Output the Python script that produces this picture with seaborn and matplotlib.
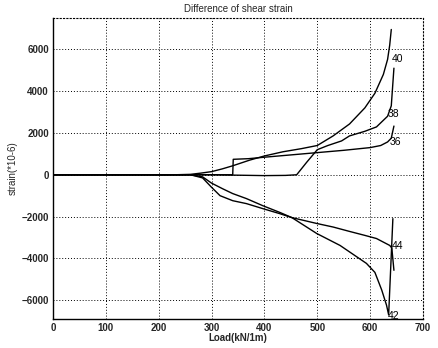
import numpy as np
import pandas as pd
import matplotlib
matplotlib.use('Agg')
import matplotlib.pyplot as plt
import seaborn as sns

# curve data (load in kN/1m, strain *10^-6)
load_36 = [0, 200, 300, 340, 341, 370, 400, 450, 500, 550, 600, 620, 633, 640, 645]
strain_36 = [0, 0, 0, 0, 740, 770, 840, 950, 1060, 1170, 1300, 1400, 1570, 1750, 2330]

load_38 = [0, 300, 350, 400, 440, 461, 480, 500, 520, 546, 561, 590, 612, 633, 640, 645]
strain_38 = [0, 0, -20, -40, -30, 0, 600, 1200, 1400, 1620, 1860, 2080, 2290, 2800, 3300, 5100]

load_40 = [0, 230, 260, 280, 300, 320, 340, 372, 400, 435, 470, 500, 530, 561, 590, 609, 625, 633, 637, 640]
strain_40 = [0, 0, 20, 80, 150, 280, 430, 700, 900, 1100, 1250, 1400, 1860, 2430, 3200, 3900, 4800, 5520, 6200, 6950]

load_42 = [0, 260, 283, 300, 316, 340, 366, 397, 429, 452, 499, 543, 593, 609, 622, 631, 635, 643]
strain_42 = [0, 0, -150, -600, -1000, -1240, -1380, -1620, -1860, -2050, -2810, -3380, -4240, -4670, -5520, -6240, -6700, -2100]

load_44 = [0, 260, 283, 300, 321, 340, 366, 397, 429, 452, 499, 530, 561, 590, 612, 637, 641, 645]
strain_44 = [0, 0, -100, -400, -670, -900, -1140, -1480, -1800, -2050, -2330, -2500, -2710, -2900, -3050, -3380, -3500, -4570]

curves = {
    '36': (load_36, strain_36),
    '38': (load_38, strain_38),
    '40': (load_40, strain_40),
    '42': (load_42, strain_42),
    '44': (load_44, strain_44),
}

# label anchor points (data coords)
label_pos = {
    '40': (640, 5550),
    '38': (634, 2900),
    '36': (636, 1550),
    '44': (640, -3400),
    '42': (634, -6750),
}

sns.set_style('white')
plt.rcParams['font.family'] = ['Liberation Sans', 'DejaVu Sans']

fig = plt.figure(figsize=(4.38, 3.48), dpi=100)
ax = fig.add_axes([53 / 438, 1 - 319 / 348, 370 / 438, 301 / 348])

for name, (x, y) in curves.items():
    df = pd.DataFrame({'load': x, 'strain': y})
    sns.lineplot(data=df, x='load', y='strain', ax=ax, color='black',
                 linewidth=1.0, sort=False, estimator=None)

for name, (lx, ly) in label_pos.items():
    ax.text(lx, ly, name, fontsize=7.5, va='center', ha='left', color='black')

ax.set_xlim(0, 700)
ax.set_ylim(-6900, 7500)
ax.set_xticks(np.arange(0, 701, 100))
ax.set_yticks(np.arange(-6000, 6001, 2000))
ax.grid(True, color='black', linestyle=(0, (1, 2)), linewidth=0.7)
ax.tick_params(direction='in', length=3, labelsize=7, width=0.8, pad=3)
for lab in ax.get_xticklabels() + ax.get_yticklabels():
    lab.set_fontweight('bold')
for side in ['left', 'bottom']:
    ax.spines[side].set_color('black')
    ax.spines[side].set_linewidth(1.0)
for side in ['top', 'right']:
    ax.spines[side].set_color('black')
    ax.spines[side].set_linewidth(0.8)
    ax.spines[side].set_linestyle((0, (1, 2)))

ax.set_xlabel('Load(kN/1m)', fontsize=7, fontweight='bold', labelpad=0)
ax.set_ylabel('strain(*10-6)', fontsize=7, labelpad=3)
ax.set_title('Difference of shear strain', fontsize=7, pad=4)

fig.savefig('out.png', dpi=100)
